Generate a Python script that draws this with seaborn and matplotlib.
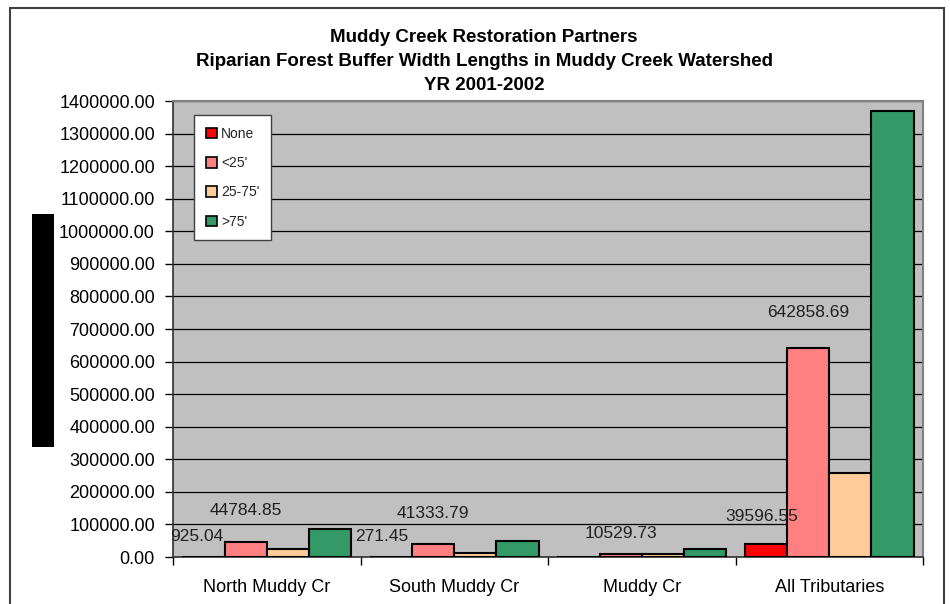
import matplotlib
matplotlib.use("Agg")
import matplotlib.pyplot as plt
import matplotlib.patches as mpatches
from matplotlib.ticker import FuncFormatter, MultipleLocator, FixedLocator
import seaborn as sns
import pandas as pd
import numpy as np

# ---- data ----
categories = ["North Muddy Cr", "South Muddy Cr", "Muddy Cr", "All Tributaries"]
series = ["None", "<25'", "25-75'", ">75'"]
none_vals = [925.04, 271.45, 0.0, 39596.55]
lt25_vals = [44784.85, 41333.79, 10529.73, 642858.69]
mid_vals = [24000.0, 12000.0, 9000.0, 258000.0]
gt75_vals = [86000.0, 49000.0, 24500.0, 1369000.0]
label_texts = {("None", 0): "925.04", ("<25'", 0): "44784.85",
               ("None", 1): "271.45", ("<25'", 1): "41333.79",
               ("<25'", 2): "10529.73",
               ("None", 3): "39596.55", ("<25'", 3): "642858.69"}
title_lines = ["Muddy Creek Restoration Partners",
               "Riparian Forest Buffer Width Lengths in Muddy Creek Watershed",
               "YR 2001-2002"]

colors = ["#FF0000", "#FF8080", "#FFCC99", "#339966"]

rows = []
for s, vals in zip(series, [none_vals, lt25_vals, mid_vals, gt75_vals]):
    for c, v in zip(categories, vals):
        rows.append({"Area": c, "Buffer": s, "Length": v})
df = pd.DataFrame(rows)

sns.set_theme(style="white")
plt.rcParams["font.family"] = ["Liberation Sans", "DejaVu Sans"]

fig = plt.figure(figsize=(9.5, 6.04), dpi=100)
ax = fig.add_axes([173/950, 47/604, 750/950, 456/604])
ax.set_facecolor("#C0C0C0")

sns.barplot(data=df, x="Area", y="Length", hue="Buffer", order=categories,
            hue_order=series, palette=colors, width=0.9, gap=0,
            edgecolor="black", linewidth=1.5, saturation=1, ax=ax, legend=False,
            errorbar=None, zorder=3)

ax.set_ylim(0, 1400000)
ax.set_xlim(-0.5, 3.5)
ax.yaxis.set_major_locator(MultipleLocator(100000))
ax.yaxis.set_major_formatter(FuncFormatter(lambda v, p: f"{v:.2f}"))
ax.grid(axis="y", color="black", linewidth=0.9, zorder=0)
ax.set_axisbelow(True)
ax.set_xlabel("")
ax.set_ylabel("")

ax.tick_params(axis="y", which="major", direction="out", length=6, width=1,
               color="black", labelsize=13, pad=7, left=True)
ax.tick_params(axis="x", which="major", length=0, labelsize=13, pad=16)
ax.xaxis.set_minor_locator(FixedLocator([-0.5, 0.5, 1.5, 2.5, 3.5]))
ax.tick_params(axis="x", which="minor", direction="out", length=6, width=1,
               color="black", bottom=True)
for t in ax.get_yticklabels() + ax.get_xticklabels():
    t.set_color("black")

for side in ["left", "bottom"]:
    ax.spines[side].set_color("#303030")
    ax.spines[side].set_linewidth(1.2)
for side in ["top", "right"]:
    ax.spines[side].set_visible(True)
    ax.spines[side].set_color("#808080")
    ax.spines[side].set_linewidth(1.5)

# data labels
offsets = {("None", 0): (-7, 20), ("<25'", 0): (0, 32),
           ("None", 1): (-9, 20), ("<25'", 1): (0, 30),
           ("<25'", 2): (0, 20),
           ("None", 3): (-4, 28), ("<25'", 3): (0, 35)}
for si, s in enumerate(series):
    cont = ax.containers[si]
    for ci, bar in enumerate(cont.patches):
        key = (s, ci)
        if key in label_texts:
            dx, dy = offsets[key]
            ax.annotate(label_texts[key],
                        (bar.get_x() + bar.get_width() / 2, bar.get_height()),
                        xytext=(dx, dy), textcoords="offset pixels",
                        ha="center", va="center", fontsize=12.5,
                        color="#202020", zorder=5)

# legend
handles = [mpatches.Patch(facecolor=c, edgecolor="black", linewidth=1.2, label=s)
           for c, s in zip(colors, series)]
leg = ax.legend(handles=handles, loc="upper left",
                bbox_to_anchor=(21/750, (557-115)/456), borderaxespad=0,
                fontsize=10, frameon=True, fancybox=False, framealpha=1,
                edgecolor="#404040", handlelength=0.8, handleheight=0.8,
                handletextpad=0.3, labelspacing=1.1, borderpad=0.85)
leg.get_frame().set_linewidth(1.0)
leg.set_zorder(6)

# title
ys = [38, 62, 86]
for line, y in zip(title_lines, ys):
    fig.text(484/950, 1 - y/604, line, ha="center", va="center",
             fontsize=13.5, fontweight="bold", color="black")

# outer border of chart
fig.add_artist(mpatches.Rectangle((10/950, -0.05), 934/950, 1 - 8/604 + 0.05,
                                  transform=fig.transFigure, fill=False,
                                  edgecolor="#404040", linewidth=1.5))
# obscured axis title block
fig.add_artist(mpatches.Rectangle((32/950, 1 - 447/604), 22/950, 233/604,
                                  transform=fig.transFigure, facecolor="black",
                                  edgecolor="none"))

fig.savefig("out.png", dpi=100)
